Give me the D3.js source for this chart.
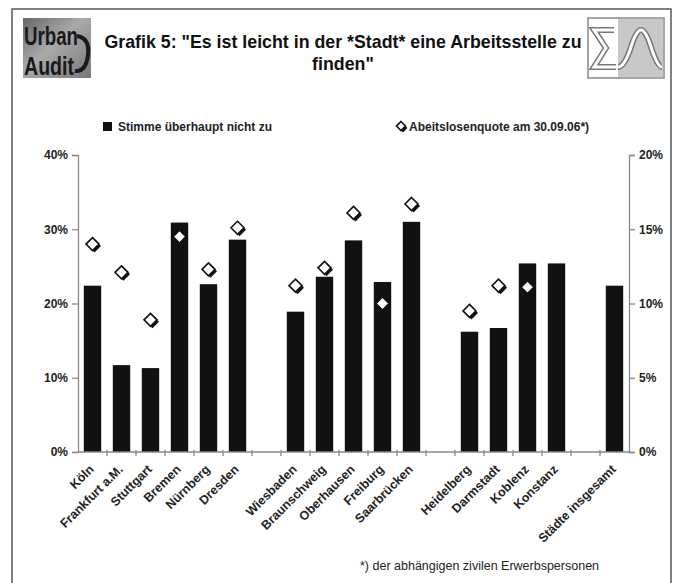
<!DOCTYPE html>
<html><head><meta charset="utf-8">
<script src="https://cdn.jsdelivr.net/npm/d3@7"></script>
<style>
body{margin:0;background:#fff;}
text{font-family:"Liberation Sans",Arial,sans-serif;}
</style></head>
<body><svg id="c" width="680" height="583"></svg>
<script>
const categories = ["Köln","Frankfurt a.M.","Stuttgart","Bremen","Nürnberg","Dresden","","Wiesbaden","Braunschweig","Oberhausen","Freiburg","Saarbrücken","","Heidelberg","Darmstadt","Koblenz","Konstanz","","Städte insgesamt"];
const stimmeNichtZu = [22.4,11.7,11.3,30.9,22.6,28.6,null,18.9,23.6,28.5,22.9,31.0,null,16.2,16.7,25.4,25.4,null,22.4];
const arbeitslosenquote = [14.0,12.1,8.9,14.5,12.3,15.1,null,11.2,12.4,16.1,10.0,16.7,null,9.5,11.2,11.1,null,null,null];
const leftTicks = [0,10,20,30,40];
const rightTicks = [0,5,10,15,20];
const titleLines = ['Grafik 5: "Es ist leicht in der *Stadt* eine Arbeitsstelle zu','finden"'];
const legendLabels = ["Stimme überhaupt nicht zu","Abeitslosenquote am 30.09.06*)"];
const footnote = "*) der abhängigen zivilen Erwerbspersonen";

const svg = d3.select("#c");
const L = 78, R = 629, T = 155, B = 452;

// frame
svg.append("path").attr("d","M12,590 L12,9 L671,9 L671,590").attr("fill","none").attr("stroke","#555").attr("stroke-width",1.5);

// left logo
const lg = svg.append("g");
const defs = svg.append("defs");
const grad = defs.append("linearGradient").attr("id","lgG").attr("x1",0).attr("y1",0).attr("x2",1).attr("y2",1);
grad.append("stop").attr("offset","0%").attr("stop-color","#666");
grad.append("stop").attr("offset","45%").attr("stop-color","#aaa");
grad.append("stop").attr("offset","100%").attr("stop-color","#777");
lg.append("rect").attr("x",23).attr("y",18).attr("width",68).attr("height",60).attr("fill","url(#lgG)");
lg.append("text").attr("x",24).attr("y",45).attr("font-size",26).attr("font-weight","bold").attr("fill","#1a1a1a").attr("textLength",54).attr("lengthAdjust","spacingAndGlyphs").text("Urban");
lg.append("text").attr("x",24).attr("y",75).attr("font-size",26).attr("font-weight","bold").attr("fill","#1a1a1a").attr("textLength",50).attr("lengthAdjust","spacingAndGlyphs").text("Audit");
lg.append("path").attr("d","M77,36 Q90,38 88,55 Q86,72 75,71").attr("fill","none").attr("stroke","#1a1a1a").attr("stroke-width",4);

// right logo
const rg = svg.append("g");
rg.append("rect").attr("x",588).attr("y",18).attr("width",76).attr("height",60).attr("fill","#fff").attr("stroke","#888").attr("stroke-width",1.5);
rg.append("rect").attr("x",618).attr("y",19).attr("width",45).attr("height",58).attr("fill","#c8c8c8");
const sig = "M614,30 L594,30 L606,48 L594,67 L616,67";
const lam = "M618,67 Q624,67 630,50 Q636,30 641,30 Q646,30 652,50 Q658,67 662,67";
[sig,lam].forEach(d=>{
  rg.append("path").attr("d",d).attr("fill","none").attr("stroke","#777").attr("stroke-width",6).attr("stroke-linejoin","miter");
  rg.append("path").attr("d",d).attr("fill","none").attr("stroke","#fff").attr("stroke-width",3).attr("stroke-linejoin","miter");
});

// title
svg.append("text").attr("x",343).attr("y",48).attr("text-anchor","middle").attr("font-size",17.8).attr("font-weight","bold").attr("fill","#111").text(titleLines[0]);
svg.append("text").attr("x",343).attr("y",70).attr("text-anchor","middle").attr("font-size",17.8).attr("font-weight","bold").attr("fill","#111").text(titleLines[1]);

// scales
const x = d3.scaleBand().domain(d3.range(categories.length)).range([L,R]).paddingInner(0.4).paddingOuter(0.2);
const step = x.step();
const yL = d3.scaleLinear().domain([0,40]).range([B,T]);
const yR = d3.scaleLinear().domain([0,20]).range([B,T]);

// bars
svg.append("g").selectAll("rect").data(stimmeNichtZu.map((v,i)=>({v,i})).filter(d=>d.v!=null)).join("rect")
  .attr("x",d=>x(d.i)).attr("width",x.bandwidth()).attr("y",d=>yL(d.v)).attr("height",d=>B-yL(d.v)).attr("fill","#111");

// axes
const gl = svg.append("g").attr("transform",`translate(${L},0)`).call(d3.axisLeft(yL).tickValues(leftTicks).tickFormat(d=>d+"%").tickSize(6).tickPadding(4));
const gr = svg.append("g").attr("transform",`translate(${R},0)`).call(d3.axisRight(yR).tickValues(rightTicks).tickFormat(d=>d+"%").tickSize(6).tickPadding(4));
[gl,gr].forEach(g=>{
  g.select(".domain").attr("stroke","#888").attr("stroke-width",1.3);
  g.selectAll(".tick line").attr("stroke","#888").attr("stroke-width",1.3);
  g.selectAll(".tick text").attr("font-size",12).attr("font-weight","bold").attr("fill","#222").attr("font-family","Liberation Sans, Arial, sans-serif");
});
// x axis line and ticks
svg.append("line").attr("x1",L).attr("x2",R).attr("y1",B).attr("y2",B).attr("stroke","#888").attr("stroke-width",1.3);
svg.append("g").selectAll("line").data(d3.range(1,categories.length)).join("line")
  .attr("x1",i=>L+i*step).attr("x2",i=>L+i*step).attr("y1",B-2).attr("y2",B+4).attr("stroke","#888").attr("stroke-width",1.3);

// x labels
svg.append("g").selectAll("text").data(categories.map((c,i)=>({c,i})).filter(d=>d.c!=="")).join("text")
  .attr("transform",d=>`translate(${x(d.i)+x.bandwidth()/2-1},${B+15}) rotate(-45)`)
  .attr("text-anchor","end").attr("dy","0.35em").attr("font-size",12.5).attr("font-weight","bold").attr("fill","#222").text(d=>d.c);

// diamonds
function diamond(g,cx,cy,s){
  g.append("path").attr("d",`M${cx+2},${cy-s+2} L${cx+s+2},${cy+2} L${cx+2},${cy+s+2} L${cx-s+2},${cy+2} Z`).attr("fill","#111");
  g.append("path").attr("d",`M${cx},${cy-s} L${cx+s},${cy} L${cx},${cy+s} L${cx-s},${cy} Z`).attr("fill","#fff").attr("stroke","#111").attr("stroke-width",1.6);
}
const dg = svg.append("g");
arbeitslosenquote.forEach((v,i)=>{ if(v!=null) diamond(dg, x(i)+x.bandwidth()/2, yR(v), 6.5); });

// legend
svg.append("rect").attr("x",103).attr("y",122).attr("width",9).attr("height",9).attr("fill","#111");
svg.append("text").attr("x",118).attr("y",131).attr("font-size",12).attr("font-weight","bold").attr("fill","#222").text(legendLabels[0]);
diamond(svg.append("g"),401,126,4.5);
svg.append("text").attr("x",409).attr("y",131).attr("font-size",12).attr("font-weight","bold").attr("fill","#222").text(legendLabels[1]);

// footnote
svg.append("text").attr("x",360).attr("y",570).attr("font-size",12.5).attr("fill","#222").text(footnote);
</script></body></html>
